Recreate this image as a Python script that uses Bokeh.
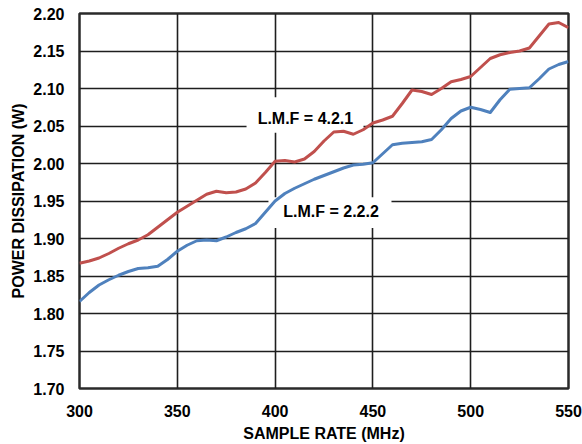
from bokeh.plotting import figure
from bokeh.models import FixedTicker, NumeralTickFormatter, Range1d, Label
from bokeh.embed import file_html
from bokeh.resources import INLINE

# Data
sample_rate = [300, 305, 310, 315, 320, 325, 330, 335, 340, 345, 350, 355, 360,
               365, 370, 375, 380, 385, 390, 395, 400, 405, 410, 415, 420, 425,
               430, 435, 440, 445, 450, 455, 460, 465, 470, 475, 480, 485, 490,
               495, 500, 505, 510, 515, 520, 525, 530, 535, 540, 545, 550]
power_421 = [1.867, 1.870, 1.874, 1.880, 1.887, 1.893, 1.898, 1.905, 1.915, 1.925,
             1.935, 1.943, 1.951, 1.959, 1.963, 1.961, 1.962, 1.966, 1.974, 1.988,
             2.003, 2.004, 2.002, 2.006, 2.016, 2.030, 2.042, 2.043, 2.039, 2.045,
             2.054, 2.058, 2.063, 2.080, 2.098, 2.096, 2.092, 2.100, 2.109, 2.112,
             2.116, 2.128, 2.140, 2.145, 2.148, 2.150, 2.154, 2.170, 2.186, 2.188,
             2.181]
power_222 = [1.816, 1.828, 1.838, 1.845, 1.851, 1.856, 1.860, 1.861, 1.863, 1.872,
             1.883, 1.891, 1.897, 1.898, 1.897, 1.902, 1.908, 1.913, 1.920, 1.935,
             1.950, 1.960, 1.967, 1.973, 1.979, 1.984, 1.989, 1.994, 1.998, 1.999,
             2.001, 2.013, 2.025, 2.027, 2.028, 2.029, 2.032, 2.045, 2.060, 2.070,
             2.075, 2.072, 2.068, 2.085, 2.099, 2.100, 2.101, 2.113, 2.126, 2.132,
             2.136]
x_ticks = [300, 350, 400, 450, 500, 550]
y_ticks = [1.70, 1.75, 1.80, 1.85, 1.90, 1.95, 2.00, 2.05, 2.10, 2.15, 2.20]
label_421 = "L.M.F = 4.2.1"
label_222 = "L.M.F = 2.2.2"

FONT = "Liberation Sans"
RED = "#C0504D"
BLUE = "#4F81BD"
FS = "16px"

p = figure(width=582, height=444, output_backend="svg", toolbar_location=None,
           x_range=Range1d(300, 550), y_range=Range1d(1.70, 2.20),
           min_border_left=79, min_border_right=14, min_border_top=13,
           min_border_bottom=53)
p.background_fill_color = "white"
p.border_fill_color = "white"
p.outline_line_color = "#2a2a2a"
p.outline_line_width = 2.5

p.xaxis.ticker = FixedTicker(ticks=x_ticks)
p.yaxis.ticker = FixedTicker(ticks=y_ticks)
p.yaxis.formatter = NumeralTickFormatter(format="0.00")

for ax in (p.xaxis[0], p.yaxis[0]):
    ax.axis_line_color = None
    ax.major_tick_line_color = None
    ax.minor_tick_line_color = None
    ax.major_label_text_font = FONT
    ax.major_label_text_font_style = "bold"
    ax.major_label_text_font_size = FS
    ax.major_label_text_color = "black"
    ax.axis_label_text_font = FONT
    ax.axis_label_text_font_style = "bold"
    ax.axis_label_text_font_size = FS
    ax.axis_label_text_color = "black"

p.xaxis.axis_label = "SAMPLE RATE (MHz)"
p.yaxis.axis_label = "POWER DISSIPATION (W)"
p.xaxis.major_label_standoff = 10
p.xaxis.axis_label_standoff = 5
p.yaxis.major_label_standoff = 9
p.yaxis.axis_label_standoff = 3

for g in (p.xgrid[0], p.ygrid[0]):
    g.grid_line_color = "#1e1e1e"
    g.grid_line_width = 1.6
p.xgrid.ticker = FixedTicker(ticks=x_ticks)
p.ygrid.ticker = FixedTicker(ticks=y_ticks)

# white backgrounds behind the labels (cover the grid, drawn beneath curves)
p.quad(left=[385.4, 396.6], right=[445.2, 459.5], top=[2.0885, 1.955],
       bottom=[2.0409, 1.914], fill_color="white", line_color=None)

p.line(sample_rate, power_421, line_color=RED, line_width=3, line_join="round")
p.line(sample_rate, power_222, line_color=BLUE, line_width=3, line_join="round")

for txt, xx, yy in ((label_421, 415.5, 2.0606), (label_222, 428.6, 1.9364)):
    p.add_layout(Label(x=xx, y=yy, text=txt, text_font=FONT, text_font_style="bold",
                       text_font_size=FS, text_align="center",
                       text_baseline="middle", text_color="black"))

open("out.html", "w").write(file_html(p, INLINE))
